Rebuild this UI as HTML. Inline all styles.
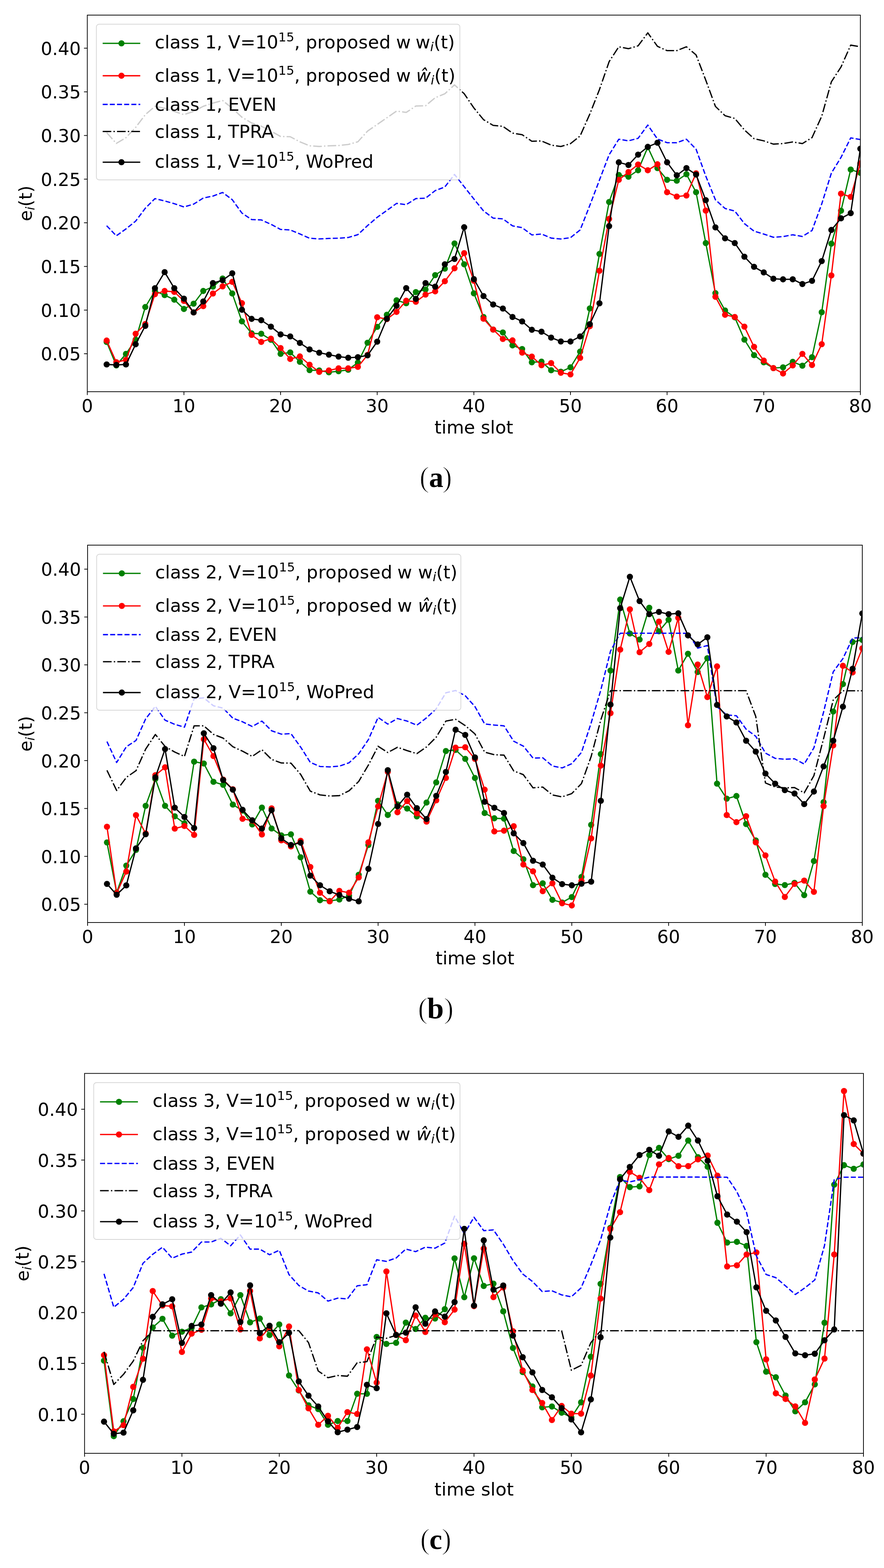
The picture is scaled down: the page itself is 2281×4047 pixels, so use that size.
<!DOCTYPE html>
<html><head><meta charset="utf-8"><title>figure</title>
<style>html,body{margin:0;padding:0;background:#fff;}svg{display:block;}</style></head>
<body><svg width="2281" height="4047" viewBox="0 0 2281 4047">
<rect width="2281" height="4047" fill="#fff"/>
<clipPath id="clip0"><rect x="225.3" y="39.0" width="1994.7" height="972.0"/></clipPath>
<g clip-path="url(#clip0)" fill="none" stroke-linejoin="round">
<path d="M275.2,882.6 L300.1,943.1 L325.0,913.4 L350.0,876.7 L374.9,792.5 L399.8,751.0 L424.8,761.7 L449.7,773.5 L474.6,797.5 L499.6,783.9 L524.5,751.0 L549.4,739.9 L574.4,718.9 L599.3,757.5 L624.2,829.5 L649.2,860.4 L674.1,861.3 L699.0,876.9 L724.0,913.3 L748.9,909.7 L773.8,933.9 L798.8,955.3 L823.7,956.2 L848.6,960.9 L873.6,958.1 L898.5,954.4 L923.4,935.8 L948.4,884.6 L973.3,843.7 L998.2,812.4 L1023.2,775.2 L1048.1,782.7 L1073.0,753.8 L1098.0,747.3 L1122.9,710.1 L1147.8,693.4 L1172.8,628.3 L1197.7,682.2 L1222.7,757.1 L1247.6,818.1 L1272.5,850.6 L1297.5,858.1 L1322.4,891.5 L1347.3,900.8 L1372.3,935.2 L1397.2,933.4 L1422.1,955.7 L1447.1,959.4 L1472.0,948.2 L1496.9,907.5 L1521.9,796.2 L1546.8,655.3 L1571.7,521.3 L1596.7,451.6 L1621.6,456.2 L1646.5,439.5 L1671.5,380.0 L1696.4,433.9 L1721.3,464.2 L1746.3,466.4 L1771.2,449.7 L1796.1,496.2 L1821.1,627.3 L1846.0,756.6 L1870.9,801.3 L1895.9,819.0 L1920.8,876.6 L1945.7,916.6 L1970.7,935.2 L1995.6,950.1 L2020.5,948.2 L2045.5,934.0 L2070.4,943.9 L2095.3,921.9 L2120.3,805.9 L2145.2,628.8 L2170.1,543.9 L2195.1,437.7 L2220.0,446.1" stroke="#008000" stroke-width="3.30" stroke-linecap="square"/>
<g fill="#008000" stroke="none"><circle cx="275.2" cy="882.6" r="7.90"/><circle cx="300.1" cy="943.1" r="7.90"/><circle cx="325.0" cy="913.4" r="7.90"/><circle cx="350.0" cy="876.7" r="7.90"/><circle cx="374.9" cy="792.5" r="7.90"/><circle cx="399.8" cy="751.0" r="7.90"/><circle cx="424.8" cy="761.7" r="7.90"/><circle cx="449.7" cy="773.5" r="7.90"/><circle cx="474.6" cy="797.5" r="7.90"/><circle cx="499.6" cy="783.9" r="7.90"/><circle cx="524.5" cy="751.0" r="7.90"/><circle cx="549.4" cy="739.9" r="7.90"/><circle cx="574.4" cy="718.9" r="7.90"/><circle cx="599.3" cy="757.5" r="7.90"/><circle cx="624.2" cy="829.5" r="7.90"/><circle cx="649.2" cy="860.4" r="7.90"/><circle cx="674.1" cy="861.3" r="7.90"/><circle cx="699.0" cy="876.9" r="7.90"/><circle cx="724.0" cy="913.3" r="7.90"/><circle cx="748.9" cy="909.7" r="7.90"/><circle cx="773.8" cy="933.9" r="7.90"/><circle cx="798.8" cy="955.3" r="7.90"/><circle cx="823.7" cy="956.2" r="7.90"/><circle cx="848.6" cy="960.9" r="7.90"/><circle cx="873.6" cy="958.1" r="7.90"/><circle cx="898.5" cy="954.4" r="7.90"/><circle cx="923.4" cy="935.8" r="7.90"/><circle cx="948.4" cy="884.6" r="7.90"/><circle cx="973.3" cy="843.7" r="7.90"/><circle cx="998.2" cy="812.4" r="7.90"/><circle cx="1023.2" cy="775.2" r="7.90"/><circle cx="1048.1" cy="782.7" r="7.90"/><circle cx="1073.0" cy="753.8" r="7.90"/><circle cx="1098.0" cy="747.3" r="7.90"/><circle cx="1122.9" cy="710.1" r="7.90"/><circle cx="1147.8" cy="693.4" r="7.90"/><circle cx="1172.8" cy="628.3" r="7.90"/><circle cx="1197.7" cy="682.2" r="7.90"/><circle cx="1222.7" cy="757.1" r="7.90"/><circle cx="1247.6" cy="818.1" r="7.90"/><circle cx="1272.5" cy="850.6" r="7.90"/><circle cx="1297.5" cy="858.1" r="7.90"/><circle cx="1322.4" cy="891.5" r="7.90"/><circle cx="1347.3" cy="900.8" r="7.90"/><circle cx="1372.3" cy="935.2" r="7.90"/><circle cx="1397.2" cy="933.4" r="7.90"/><circle cx="1422.1" cy="955.7" r="7.90"/><circle cx="1447.1" cy="959.4" r="7.90"/><circle cx="1472.0" cy="948.2" r="7.90"/><circle cx="1496.9" cy="907.5" r="7.90"/><circle cx="1521.9" cy="796.2" r="7.90"/><circle cx="1546.8" cy="655.3" r="7.90"/><circle cx="1571.7" cy="521.3" r="7.90"/><circle cx="1596.7" cy="451.6" r="7.90"/><circle cx="1621.6" cy="456.2" r="7.90"/><circle cx="1646.5" cy="439.5" r="7.90"/><circle cx="1671.5" cy="380.0" r="7.90"/><circle cx="1696.4" cy="433.9" r="7.90"/><circle cx="1721.3" cy="464.2" r="7.90"/><circle cx="1746.3" cy="466.4" r="7.90"/><circle cx="1771.2" cy="449.7" r="7.90"/><circle cx="1796.1" cy="496.2" r="7.90"/><circle cx="1821.1" cy="627.3" r="7.90"/><circle cx="1846.0" cy="756.6" r="7.90"/><circle cx="1870.9" cy="801.3" r="7.90"/><circle cx="1895.9" cy="819.0" r="7.90"/><circle cx="1920.8" cy="876.6" r="7.90"/><circle cx="1945.7" cy="916.6" r="7.90"/><circle cx="1970.7" cy="935.2" r="7.90"/><circle cx="1995.6" cy="950.1" r="7.90"/><circle cx="2020.5" cy="948.2" r="7.90"/><circle cx="2045.5" cy="934.0" r="7.90"/><circle cx="2070.4" cy="943.9" r="7.90"/><circle cx="2095.3" cy="921.9" r="7.90"/><circle cx="2120.3" cy="805.9" r="7.90"/><circle cx="2145.2" cy="628.8" r="7.90"/><circle cx="2170.1" cy="543.9" r="7.90"/><circle cx="2195.1" cy="437.7" r="7.90"/><circle cx="2220.0" cy="446.1" r="7.90"/></g>
<path d="M275.2,879.0 L300.1,934.8 L325.0,928.8 L350.0,861.3 L374.9,836.4 L399.8,759.3 L424.8,751.0 L449.7,753.4 L474.6,776.7 L499.6,806.4 L524.5,790.2 L549.4,757.6 L574.4,739.2 L599.3,727.5 L624.2,782.5 L649.2,864.3 L674.1,882.5 L699.0,874.1 L724.0,898.4 L748.9,926.5 L773.8,920.0 L798.8,941.3 L823.7,959.9 L848.6,956.2 L873.6,950.6 L898.5,950.6 L923.4,946.9 L948.4,916.2 L973.3,818.9 L998.2,823.6 L1023.2,805.0 L1048.1,776.1 L1073.0,778.9 L1098.0,760.3 L1122.9,752.0 L1147.8,725.9 L1172.8,692.5 L1197.7,653.4 L1222.7,724.6 L1247.6,822.7 L1272.5,850.6 L1297.5,874.8 L1322.4,878.5 L1347.3,910.1 L1372.3,920.3 L1397.2,942.7 L1422.1,937.1 L1447.1,962.2 L1472.0,966.3 L1496.9,923.7 L1521.9,841.9 L1546.8,698.8 L1571.7,565.0 L1596.7,464.2 L1621.6,444.1 L1646.5,424.6 L1671.5,439.5 L1696.4,424.0 L1721.3,496.2 L1746.3,507.3 L1771.2,504.6 L1796.1,447.4 L1821.1,543.6 L1846.0,766.0 L1870.9,812.5 L1895.9,818.1 L1920.8,843.2 L1945.7,895.2 L1970.7,930.6 L1995.6,950.1 L2020.5,964.0 L2045.5,943.2 L2070.4,913.3 L2095.3,942.2 L2120.3,888.3 L2145.2,710.8 L2170.1,499.9 L2195.1,508.2 L2220.0,421.6" stroke="#ff0000" stroke-width="3.30" stroke-linecap="square"/>
<g fill="#ff0000" stroke="none"><circle cx="275.2" cy="879.0" r="7.90"/><circle cx="300.1" cy="934.8" r="7.90"/><circle cx="325.0" cy="928.8" r="7.90"/><circle cx="350.0" cy="861.3" r="7.90"/><circle cx="374.9" cy="836.4" r="7.90"/><circle cx="399.8" cy="759.3" r="7.90"/><circle cx="424.8" cy="751.0" r="7.90"/><circle cx="449.7" cy="753.4" r="7.90"/><circle cx="474.6" cy="776.7" r="7.90"/><circle cx="499.6" cy="806.4" r="7.90"/><circle cx="524.5" cy="790.2" r="7.90"/><circle cx="549.4" cy="757.6" r="7.90"/><circle cx="574.4" cy="739.2" r="7.90"/><circle cx="599.3" cy="727.5" r="7.90"/><circle cx="624.2" cy="782.5" r="7.90"/><circle cx="649.2" cy="864.3" r="7.90"/><circle cx="674.1" cy="882.5" r="7.90"/><circle cx="699.0" cy="874.1" r="7.90"/><circle cx="724.0" cy="898.4" r="7.90"/><circle cx="748.9" cy="926.5" r="7.90"/><circle cx="773.8" cy="920.0" r="7.90"/><circle cx="798.8" cy="941.3" r="7.90"/><circle cx="823.7" cy="959.9" r="7.90"/><circle cx="848.6" cy="956.2" r="7.90"/><circle cx="873.6" cy="950.6" r="7.90"/><circle cx="898.5" cy="950.6" r="7.90"/><circle cx="923.4" cy="946.9" r="7.90"/><circle cx="948.4" cy="916.2" r="7.90"/><circle cx="973.3" cy="818.9" r="7.90"/><circle cx="998.2" cy="823.6" r="7.90"/><circle cx="1023.2" cy="805.0" r="7.90"/><circle cx="1048.1" cy="776.1" r="7.90"/><circle cx="1073.0" cy="778.9" r="7.90"/><circle cx="1098.0" cy="760.3" r="7.90"/><circle cx="1122.9" cy="752.0" r="7.90"/><circle cx="1147.8" cy="725.9" r="7.90"/><circle cx="1172.8" cy="692.5" r="7.90"/><circle cx="1197.7" cy="653.4" r="7.90"/><circle cx="1222.7" cy="724.6" r="7.90"/><circle cx="1247.6" cy="822.7" r="7.90"/><circle cx="1272.5" cy="850.6" r="7.90"/><circle cx="1297.5" cy="874.8" r="7.90"/><circle cx="1322.4" cy="878.5" r="7.90"/><circle cx="1347.3" cy="910.1" r="7.90"/><circle cx="1372.3" cy="920.3" r="7.90"/><circle cx="1397.2" cy="942.7" r="7.90"/><circle cx="1422.1" cy="937.1" r="7.90"/><circle cx="1447.1" cy="962.2" r="7.90"/><circle cx="1472.0" cy="966.3" r="7.90"/><circle cx="1496.9" cy="923.7" r="7.90"/><circle cx="1521.9" cy="841.9" r="7.90"/><circle cx="1546.8" cy="698.8" r="7.90"/><circle cx="1571.7" cy="565.0" r="7.90"/><circle cx="1596.7" cy="464.2" r="7.90"/><circle cx="1621.6" cy="444.1" r="7.90"/><circle cx="1646.5" cy="424.6" r="7.90"/><circle cx="1671.5" cy="439.5" r="7.90"/><circle cx="1696.4" cy="424.0" r="7.90"/><circle cx="1721.3" cy="496.2" r="7.90"/><circle cx="1746.3" cy="507.3" r="7.90"/><circle cx="1771.2" cy="504.6" r="7.90"/><circle cx="1796.1" cy="447.4" r="7.90"/><circle cx="1821.1" cy="543.6" r="7.90"/><circle cx="1846.0" cy="766.0" r="7.90"/><circle cx="1870.9" cy="812.5" r="7.90"/><circle cx="1895.9" cy="818.1" r="7.90"/><circle cx="1920.8" cy="843.2" r="7.90"/><circle cx="1945.7" cy="895.2" r="7.90"/><circle cx="1970.7" cy="930.6" r="7.90"/><circle cx="1995.6" cy="950.1" r="7.90"/><circle cx="2020.5" cy="964.0" r="7.90"/><circle cx="2045.5" cy="943.2" r="7.90"/><circle cx="2070.4" cy="913.3" r="7.90"/><circle cx="2095.3" cy="942.2" r="7.90"/><circle cx="2120.3" cy="888.3" r="7.90"/><circle cx="2145.2" cy="710.8" r="7.90"/><circle cx="2170.1" cy="499.9" r="7.90"/><circle cx="2195.1" cy="508.2" r="7.90"/><circle cx="2220.0" cy="421.6" r="7.90"/></g>
<path d="M275.2,582.6 L300.1,608.7 L325.0,590.9 L350.0,570.7 L374.9,537.5 L399.8,512.6 L424.8,518.6 L449.7,525.7 L474.6,534.1 L499.6,526.9 L524.5,511.1 L549.4,506.1 L574.4,496.8 L599.3,515.4 L624.2,549.9 L649.2,566.6 L674.1,567.6 L699.0,578.8 L724.0,592.2 L748.9,593.5 L773.8,603.7 L798.8,614.9 L823.7,616.7 L848.6,615.4 L873.6,614.9 L898.5,613.0 L923.4,605.6 L948.4,582.3 L973.3,560.9 L998.2,543.2 L1023.2,525.0 L1048.1,528.3 L1073.0,512.5 L1098.0,511.6 L1122.9,492.0 L1147.8,482.7 L1172.8,450.2 L1197.7,481.8 L1222.7,513.5 L1247.6,544.3 L1272.5,563.0 L1297.5,564.9 L1322.4,582.9 L1347.3,587.6 L1372.3,606.3 L1397.2,604.0 L1422.1,614.5 L1447.1,616.9 L1472.0,613.4 L1496.9,593.5 L1521.9,530.2 L1546.8,464.7 L1571.7,399.5 L1596.7,359.3 L1621.6,363.5 L1646.5,357.0 L1671.5,322.8 L1696.4,358.7 L1721.3,368.3 L1746.3,368.3 L1771.2,359.3 L1796.1,385.1 L1821.1,454.4 L1846.0,515.7 L1870.9,538.1 L1895.9,544.6 L1920.8,577.1 L1945.7,596.6 L1970.7,604.1 L1995.6,612.4 L2020.5,610.6 L2045.5,606.0 L2070.4,610.3 L2095.3,594.9 L2120.3,526.4 L2145.2,446.8 L2170.1,406.2 L2195.1,355.9 L2220.0,360.1" stroke="#0000ff" stroke-width="3.30" stroke-dasharray="12.90 5.60"/>
<path d="M275.2,342.1 L300.1,370.2 L325.0,355.4 L350.0,328.9 L374.9,295.9 L399.8,274.4 L424.8,279.3 L449.7,287.6 L474.6,295.9 L499.6,287.6 L524.5,274.4 L549.4,266.1 L574.4,259.5 L599.3,279.3 L624.2,302.5 L649.2,317.4 L674.1,325.6 L699.0,338.4 L724.0,352.2 L748.9,352.9 L773.8,366.0 L798.8,376.3 L823.7,378.0 L848.6,376.3 L873.6,375.6 L898.5,372.8 L923.4,366.0 L948.4,338.4 L973.3,321.2 L998.2,304.0 L1023.2,286.7 L1048.1,290.2 L1073.0,273.7 L1098.0,273.0 L1122.9,252.3 L1147.8,242.0 L1172.8,219.0 L1197.7,241.8 L1222.7,278.5 L1247.6,308.8 L1272.5,323.6 L1297.5,326.1 L1322.4,343.5 L1347.3,347.7 L1372.3,364.6 L1397.2,363.8 L1422.1,374.5 L1447.1,378.2 L1472.0,370.8 L1496.9,350.9 L1521.9,294.3 L1546.8,231.1 L1571.7,159.2 L1596.7,120.7 L1621.6,125.7 L1646.5,118.3 L1671.5,84.8 L1696.4,119.5 L1721.3,130.7 L1746.3,130.7 L1771.2,120.7 L1796.1,141.8 L1821.1,206.8 L1846.0,274.6 L1870.9,298.6 L1895.9,305.7 L1920.8,335.3 L1945.7,357.9 L1970.7,363.5 L1995.6,372.0 L2020.5,370.6 L2045.5,366.4 L2070.4,370.6 L2095.3,355.1 L2120.3,300.0 L2145.2,211.1 L2170.1,172.9 L2195.1,116.5 L2220.0,120.7" stroke="#000000" stroke-width="3.30" stroke-dasharray="22.30 5.60 3.50 5.60"/>
<path d="M275.2,940.7 L300.1,941.9 L325.0,940.7 L350.0,888.5 L374.9,841.1 L399.8,743.9 L424.8,702.4 L449.7,743.9 L474.6,770.9 L499.6,806.4 L524.5,778.1 L549.4,730.6 L574.4,723.3 L599.3,705.3 L624.2,799.5 L649.2,823.0 L674.1,826.5 L699.0,843.1 L724.0,863.1 L748.9,868.3 L773.8,885.2 L798.8,901.9 L823.7,910.3 L848.6,915.3 L873.6,920.3 L898.5,923.3 L923.4,921.8 L948.4,917.2 L973.3,881.8 L998.2,822.6 L1023.2,789.2 L1048.1,743.6 L1073.0,771.5 L1098.0,730.6 L1122.9,739.9 L1147.8,682.2 L1172.8,668.3 L1197.7,586.5 L1222.7,720.4 L1247.6,764.2 L1272.5,785.9 L1297.5,796.3 L1322.4,818.1 L1347.3,829.6 L1372.3,851.2 L1397.2,856.2 L1422.1,871.4 L1447.1,881.3 L1472.0,881.5 L1496.9,868.4 L1521.9,836.7 L1546.8,782.9 L1571.7,583.6 L1596.7,419.0 L1621.6,425.9 L1646.5,399.1 L1671.5,379.0 L1696.4,368.4 L1721.3,419.0 L1746.3,452.5 L1771.2,433.9 L1796.1,450.5 L1821.1,516.7 L1846.0,586.8 L1870.9,615.2 L1895.9,627.3 L1920.8,662.6 L1945.7,688.7 L1970.7,703.2 L1995.6,719.4 L2020.5,721.0 L2045.5,720.8 L2070.4,733.2 L2095.3,724.8 L2120.3,673.8 L2145.2,593.5 L2170.1,563.5 L2195.1,550.2 L2220.0,383.9" stroke="#000000" stroke-width="3.30" stroke-linecap="square"/>
<g fill="#000000" stroke="none"><circle cx="275.2" cy="940.7" r="7.90"/><circle cx="300.1" cy="941.9" r="7.90"/><circle cx="325.0" cy="940.7" r="7.90"/><circle cx="350.0" cy="888.5" r="7.90"/><circle cx="374.9" cy="841.1" r="7.90"/><circle cx="399.8" cy="743.9" r="7.90"/><circle cx="424.8" cy="702.4" r="7.90"/><circle cx="449.7" cy="743.9" r="7.90"/><circle cx="474.6" cy="770.9" r="7.90"/><circle cx="499.6" cy="806.4" r="7.90"/><circle cx="524.5" cy="778.1" r="7.90"/><circle cx="549.4" cy="730.6" r="7.90"/><circle cx="574.4" cy="723.3" r="7.90"/><circle cx="599.3" cy="705.3" r="7.90"/><circle cx="624.2" cy="799.5" r="7.90"/><circle cx="649.2" cy="823.0" r="7.90"/><circle cx="674.1" cy="826.5" r="7.90"/><circle cx="699.0" cy="843.1" r="7.90"/><circle cx="724.0" cy="863.1" r="7.90"/><circle cx="748.9" cy="868.3" r="7.90"/><circle cx="773.8" cy="885.2" r="7.90"/><circle cx="798.8" cy="901.9" r="7.90"/><circle cx="823.7" cy="910.3" r="7.90"/><circle cx="848.6" cy="915.3" r="7.90"/><circle cx="873.6" cy="920.3" r="7.90"/><circle cx="898.5" cy="923.3" r="7.90"/><circle cx="923.4" cy="921.8" r="7.90"/><circle cx="948.4" cy="917.2" r="7.90"/><circle cx="973.3" cy="881.8" r="7.90"/><circle cx="998.2" cy="822.6" r="7.90"/><circle cx="1023.2" cy="789.2" r="7.90"/><circle cx="1048.1" cy="743.6" r="7.90"/><circle cx="1073.0" cy="771.5" r="7.90"/><circle cx="1098.0" cy="730.6" r="7.90"/><circle cx="1122.9" cy="739.9" r="7.90"/><circle cx="1147.8" cy="682.2" r="7.90"/><circle cx="1172.8" cy="668.3" r="7.90"/><circle cx="1197.7" cy="586.5" r="7.90"/><circle cx="1222.7" cy="720.4" r="7.90"/><circle cx="1247.6" cy="764.2" r="7.90"/><circle cx="1272.5" cy="785.9" r="7.90"/><circle cx="1297.5" cy="796.3" r="7.90"/><circle cx="1322.4" cy="818.1" r="7.90"/><circle cx="1347.3" cy="829.6" r="7.90"/><circle cx="1372.3" cy="851.2" r="7.90"/><circle cx="1397.2" cy="856.2" r="7.90"/><circle cx="1422.1" cy="871.4" r="7.90"/><circle cx="1447.1" cy="881.3" r="7.90"/><circle cx="1472.0" cy="881.5" r="7.90"/><circle cx="1496.9" cy="868.4" r="7.90"/><circle cx="1521.9" cy="836.7" r="7.90"/><circle cx="1546.8" cy="782.9" r="7.90"/><circle cx="1571.7" cy="583.6" r="7.90"/><circle cx="1596.7" cy="419.0" r="7.90"/><circle cx="1621.6" cy="425.9" r="7.90"/><circle cx="1646.5" cy="399.1" r="7.90"/><circle cx="1671.5" cy="379.0" r="7.90"/><circle cx="1696.4" cy="368.4" r="7.90"/><circle cx="1721.3" cy="419.0" r="7.90"/><circle cx="1746.3" cy="452.5" r="7.90"/><circle cx="1771.2" cy="433.9" r="7.90"/><circle cx="1796.1" cy="450.5" r="7.90"/><circle cx="1821.1" cy="516.7" r="7.90"/><circle cx="1846.0" cy="586.8" r="7.90"/><circle cx="1870.9" cy="615.2" r="7.90"/><circle cx="1895.9" cy="627.3" r="7.90"/><circle cx="1920.8" cy="662.6" r="7.90"/><circle cx="1945.7" cy="688.7" r="7.90"/><circle cx="1970.7" cy="703.2" r="7.90"/><circle cx="1995.6" cy="719.4" r="7.90"/><circle cx="2020.5" cy="721.0" r="7.90"/><circle cx="2045.5" cy="720.8" r="7.90"/><circle cx="2070.4" cy="733.2" r="7.90"/><circle cx="2095.3" cy="724.8" r="7.90"/><circle cx="2120.3" cy="673.8" r="7.90"/><circle cx="2145.2" cy="593.5" r="7.90"/><circle cx="2170.1" cy="563.5" r="7.90"/><circle cx="2195.1" cy="550.2" r="7.90"/><circle cx="2220.0" cy="383.9" r="7.90"/></g>
</g>
<rect x="225.3" y="39.0" width="1994.7" height="972.0" fill="none" stroke="#000" stroke-width="1.90"/>
<g stroke="#000" stroke-width="1.90"><line x1="225.3" y1="1011.0" x2="225.3" y2="1019.6"/><line x1="474.6" y1="1011.0" x2="474.6" y2="1019.6"/><line x1="724.0" y1="1011.0" x2="724.0" y2="1019.6"/><line x1="973.3" y1="1011.0" x2="973.3" y2="1019.6"/><line x1="1222.7" y1="1011.0" x2="1222.7" y2="1019.6"/><line x1="1472.0" y1="1011.0" x2="1472.0" y2="1019.6"/><line x1="1721.3" y1="1011.0" x2="1721.3" y2="1019.6"/><line x1="1970.7" y1="1011.0" x2="1970.7" y2="1019.6"/><line x1="2220.0" y1="1011.0" x2="2220.0" y2="1019.6"/><line x1="225.3" y1="913.0" x2="216.7" y2="913.0"/><line x1="225.3" y1="800.4" x2="216.7" y2="800.4"/><line x1="225.3" y1="687.7" x2="216.7" y2="687.7"/><line x1="225.3" y1="575.0" x2="216.7" y2="575.0"/><line x1="225.3" y1="462.4" x2="216.7" y2="462.4"/><line x1="225.3" y1="349.7" x2="216.7" y2="349.7"/><line x1="225.3" y1="237.1" x2="216.7" y2="237.1"/><line x1="225.3" y1="124.4" x2="216.7" y2="124.4"/></g>
<g font-family='"DejaVu Sans", "Liberation Sans", sans-serif' font-size="46.40" fill="#000">
<text x="225.3" y="1063.5" text-anchor="middle">0</text>
<text x="474.6" y="1063.5" text-anchor="middle">10</text>
<text x="724.0" y="1063.5" text-anchor="middle">20</text>
<text x="973.3" y="1063.5" text-anchor="middle">30</text>
<text x="1222.7" y="1063.5" text-anchor="middle">40</text>
<text x="1472.0" y="1063.5" text-anchor="middle">50</text>
<text x="1721.3" y="1063.5" text-anchor="middle">60</text>
<text x="1970.7" y="1063.5" text-anchor="middle">70</text>
<text x="2220.0" y="1063.5" text-anchor="middle">80</text>
<text x="208.5" y="930.3" text-anchor="end">0.05</text>
<text x="208.5" y="817.7" text-anchor="end">0.10</text>
<text x="208.5" y="705.0" text-anchor="end">0.15</text>
<text x="208.5" y="592.3" text-anchor="end">0.20</text>
<text x="208.5" y="479.7" text-anchor="end">0.25</text>
<text x="208.5" y="367.0" text-anchor="end">0.30</text>
<text x="208.5" y="254.4" text-anchor="end">0.35</text>
<text x="208.5" y="141.7" text-anchor="end">0.40</text>
<text x="1222.7" y="1119.0" text-anchor="middle">time slot</text>
<text transform="translate(82.0,525.0) rotate(-90)" text-anchor="middle">e<tspan font-style="italic" font-size="32.5" dy="7.0">i</tspan><tspan dy="-7.0">(t)</tspan></text>
</g>
<rect x="248.7" y="62.5" width="937.9" height="401.7" rx="7.0" ry="7.0" fill="#fff" fill-opacity="0.8" stroke="#ccc" stroke-opacity="0.8" stroke-width="1.90"/>
<line x1="264.9" y1="111.8" x2="361.9" y2="111.8" stroke="#008000" stroke-width="3.30"/>
<circle cx="313.4" cy="111.8" r="7.90" fill="#008000"/>
<text x="399.5" y="124.9" font-family='"DejaVu Sans", "Liberation Sans", sans-serif' font-size="46.40">class 1, V=10<tspan font-size="32.5" dy="-18.0">15</tspan><tspan dy="18.0">, </tspan><tspan letter-spacing="0.45">proposed</tspan><tspan dx="-1.2"> w</tspan><tspan dx="-2.5"> </tspan>w<tspan font-style="italic" font-size="32.5" dy="7.0">i</tspan><tspan dy="-7.0">(t)</tspan></text>
<line x1="264.9" y1="195.5" x2="361.9" y2="195.5" stroke="#ff0000" stroke-width="3.30"/>
<circle cx="313.4" cy="195.5" r="7.90" fill="#ff0000"/>
<text x="399.5" y="210.6" font-family='"DejaVu Sans", "Liberation Sans", sans-serif' font-size="46.40">class 1, V=10<tspan font-size="32.5" dy="-18.0">15</tspan><tspan dy="18.0">, </tspan><tspan letter-spacing="0.45">proposed</tspan><tspan dx="-1.2"> w</tspan><tspan dx="-1.0"> </tspan><tspan font-style="italic">ŵ</tspan><tspan font-style="italic" font-size="32.5" dy="7.0">i</tspan><tspan dy="-7.0">(t)</tspan></text>
<line x1="264.9" y1="269.5" x2="361.9" y2="269.5" stroke="#0000ff" stroke-width="3.30" stroke-dasharray="12.90 5.60"/>
<text x="399.5" y="285.5" font-family='"DejaVu Sans", "Liberation Sans", sans-serif' font-size="46.40">class 1, EVEN</text>
<line x1="264.9" y1="339.3" x2="361.9" y2="339.3" stroke="#000000" stroke-width="3.30" stroke-dasharray="22.30 5.60 3.50 5.60"/>
<text x="399.5" y="355.6" font-family='"DejaVu Sans", "Liberation Sans", sans-serif' font-size="46.40">class 1, TPRA</text>
<line x1="264.9" y1="418.7" x2="361.9" y2="418.7" stroke="#000000" stroke-width="3.30"/>
<circle cx="313.4" cy="418.7" r="7.90" fill="#000000"/>
<text x="399.5" y="433.3" font-family='"DejaVu Sans", "Liberation Sans", sans-serif' font-size="46.40">class 1, V=10<tspan font-size="32.5" dy="-18.0">15</tspan><tspan dy="18.0">, </tspan>WoPred</text>
<g font-family='"Liberation Serif", serif' fill="#000"><text x="1082.2" y="1256.8" font-size="76.7" stroke="#fff" stroke-width="1.8">(</text><text x="1107.0" y="1256.8" font-size="74" font-weight="bold">a</text><text x="1141.0" y="1256.8" font-size="76.7" stroke="#fff" stroke-width="1.8">)</text></g>
<clipPath id="clip1"><rect x="226.0" y="1407.0" width="1999.0" height="974.0"/></clipPath>
<g clip-path="url(#clip1)" fill="none" stroke-linejoin="round">
<path d="M276.0,2174.3 L301.0,2303.5 L325.9,2234.1 L350.9,2193.6 L375.9,2079.8 L400.9,2010.4 L425.9,2079.8 L450.9,2106.8 L475.9,2125.0 L500.9,1965.9 L525.9,1970.7 L550.8,2017.9 L575.8,2025.6 L600.8,2076.7 L625.8,2092.1 L650.8,2127.8 L675.8,2084.4 L700.8,2138.4 L725.8,2156.2 L750.7,2153.3 L775.7,2212.6 L800.7,2301.3 L825.7,2323.5 L850.7,2325.4 L875.7,2321.6 L900.7,2311.9 L925.6,2257.9 L950.6,2180.8 L975.6,2066.8 L1000.6,2103.5 L1025.6,2076.2 L1050.6,2086.8 L1075.6,2107.1 L1100.6,2071.4 L1125.6,2019.4 L1150.5,1938.4 L1175.5,1935.5 L1200.5,1958.6 L1225.5,2008.0 L1250.5,2098.4 L1275.5,2112.0 L1300.5,2113.0 L1325.5,2196.4 L1350.4,2217.7 L1375.4,2284.7 L1400.4,2279.8 L1425.4,2322.5 L1450.4,2329.3 L1475.4,2315.3 L1500.4,2263.4 L1525.4,2128.9 L1550.3,1946.3 L1575.3,1730.7 L1600.3,1547.5 L1625.3,1635.2 L1650.3,1650.7 L1675.3,1568.7 L1700.3,1629.4 L1725.2,1599.6 L1750.2,1730.7 L1775.2,1687.3 L1800.2,1734.5 L1825.2,1698.8 L1850.2,2022.7 L1875.2,2061.3 L1900.2,2054.5 L1925.2,2126.8 L1950.1,2169.2 L1975.1,2257.9 L2000.1,2281.6 L2025.1,2284.3 L2050.1,2278.7 L2075.1,2310.3 L2100.1,2222.4 L2125.1,2070.3 L2150.0,1836.4 L2175.0,1765.7 L2200.0,1657.0 L2225.0,1651.6" stroke="#008000" stroke-width="3.31" stroke-linecap="square"/>
<g fill="#008000" stroke="none"><circle cx="276.0" cy="2174.3" r="7.92"/><circle cx="301.0" cy="2303.5" r="7.92"/><circle cx="325.9" cy="2234.1" r="7.92"/><circle cx="350.9" cy="2193.6" r="7.92"/><circle cx="375.9" cy="2079.8" r="7.92"/><circle cx="400.9" cy="2010.4" r="7.92"/><circle cx="425.9" cy="2079.8" r="7.92"/><circle cx="450.9" cy="2106.8" r="7.92"/><circle cx="475.9" cy="2125.0" r="7.92"/><circle cx="500.9" cy="1965.9" r="7.92"/><circle cx="525.9" cy="1970.7" r="7.92"/><circle cx="550.8" cy="2017.9" r="7.92"/><circle cx="575.8" cy="2025.6" r="7.92"/><circle cx="600.8" cy="2076.7" r="7.92"/><circle cx="625.8" cy="2092.1" r="7.92"/><circle cx="650.8" cy="2127.8" r="7.92"/><circle cx="675.8" cy="2084.4" r="7.92"/><circle cx="700.8" cy="2138.4" r="7.92"/><circle cx="725.8" cy="2156.2" r="7.92"/><circle cx="750.7" cy="2153.3" r="7.92"/><circle cx="775.7" cy="2212.6" r="7.92"/><circle cx="800.7" cy="2301.3" r="7.92"/><circle cx="825.7" cy="2323.5" r="7.92"/><circle cx="850.7" cy="2325.4" r="7.92"/><circle cx="875.7" cy="2321.6" r="7.92"/><circle cx="900.7" cy="2311.9" r="7.92"/><circle cx="925.6" cy="2257.9" r="7.92"/><circle cx="950.6" cy="2180.8" r="7.92"/><circle cx="975.6" cy="2066.8" r="7.92"/><circle cx="1000.6" cy="2103.5" r="7.92"/><circle cx="1025.6" cy="2076.2" r="7.92"/><circle cx="1050.6" cy="2086.8" r="7.92"/><circle cx="1075.6" cy="2107.1" r="7.92"/><circle cx="1100.6" cy="2071.4" r="7.92"/><circle cx="1125.6" cy="2019.4" r="7.92"/><circle cx="1150.5" cy="1938.4" r="7.92"/><circle cx="1175.5" cy="1935.5" r="7.92"/><circle cx="1200.5" cy="1958.6" r="7.92"/><circle cx="1225.5" cy="2008.0" r="7.92"/><circle cx="1250.5" cy="2098.4" r="7.92"/><circle cx="1275.5" cy="2112.0" r="7.92"/><circle cx="1300.5" cy="2113.0" r="7.92"/><circle cx="1325.5" cy="2196.4" r="7.92"/><circle cx="1350.4" cy="2217.7" r="7.92"/><circle cx="1375.4" cy="2284.7" r="7.92"/><circle cx="1400.4" cy="2279.8" r="7.92"/><circle cx="1425.4" cy="2322.5" r="7.92"/><circle cx="1450.4" cy="2329.3" r="7.92"/><circle cx="1475.4" cy="2315.3" r="7.92"/><circle cx="1500.4" cy="2263.4" r="7.92"/><circle cx="1525.4" cy="2128.9" r="7.92"/><circle cx="1550.3" cy="1946.3" r="7.92"/><circle cx="1575.3" cy="1730.7" r="7.92"/><circle cx="1600.3" cy="1547.5" r="7.92"/><circle cx="1625.3" cy="1635.2" r="7.92"/><circle cx="1650.3" cy="1650.7" r="7.92"/><circle cx="1675.3" cy="1568.7" r="7.92"/><circle cx="1700.3" cy="1629.4" r="7.92"/><circle cx="1725.2" cy="1599.6" r="7.92"/><circle cx="1750.2" cy="1730.7" r="7.92"/><circle cx="1775.2" cy="1687.3" r="7.92"/><circle cx="1800.2" cy="1734.5" r="7.92"/><circle cx="1825.2" cy="1698.8" r="7.92"/><circle cx="1850.2" cy="2022.7" r="7.92"/><circle cx="1875.2" cy="2061.3" r="7.92"/><circle cx="1900.2" cy="2054.5" r="7.92"/><circle cx="1925.2" cy="2126.8" r="7.92"/><circle cx="1950.1" cy="2169.2" r="7.92"/><circle cx="1975.1" cy="2257.9" r="7.92"/><circle cx="2000.1" cy="2281.6" r="7.92"/><circle cx="2025.1" cy="2284.3" r="7.92"/><circle cx="2050.1" cy="2278.7" r="7.92"/><circle cx="2075.1" cy="2310.3" r="7.92"/><circle cx="2100.1" cy="2222.4" r="7.92"/><circle cx="2125.1" cy="2070.3" r="7.92"/><circle cx="2150.0" cy="1836.4" r="7.92"/><circle cx="2175.0" cy="1765.7" r="7.92"/><circle cx="2200.0" cy="1657.0" r="7.92"/><circle cx="2225.0" cy="1651.6" r="7.92"/></g>
<path d="M276.0,2133.8 L301.0,2305.4 L325.9,2249.5 L350.9,2103.9 L375.9,2151.2 L400.9,2000.8 L425.9,1980.5 L450.9,2138.6 L475.9,2131.8 L500.9,2154.9 L525.9,1908.0 L550.8,1951.4 L575.8,2012.1 L600.8,2037.2 L625.8,2113.3 L650.8,2118.2 L675.8,2153.8 L700.8,2086.3 L725.8,2168.8 L750.7,2184.7 L775.7,2170.2 L800.7,2237.7 L825.7,2304.2 L850.7,2326.4 L875.7,2299.4 L900.7,2304.2 L925.6,2264.7 L950.6,2174.1 L975.6,2081.3 L1000.6,1992.1 L1025.6,2096.5 L1050.6,2067.6 L1075.6,2099.4 L1100.6,2120.6 L1125.6,2065.6 L1150.5,2007.8 L1175.5,1929.7 L1200.5,1928.7 L1225.5,1958.6 L1250.5,2038.2 L1275.5,2145.9 L1300.5,2144.0 L1325.5,2132.4 L1350.4,2231.3 L1375.4,2248.8 L1400.4,2300.2 L1425.4,2279.8 L1450.4,2331.3 L1475.4,2337.0 L1500.4,2273.9 L1525.4,2163.8 L1550.3,1976.0 L1575.3,1840.6 L1600.3,1676.7 L1625.3,1572.6 L1650.3,1683.4 L1675.3,1662.2 L1700.3,1604.4 L1725.2,1682.5 L1750.2,1594.7 L1775.2,1871.9 L1800.2,1715.2 L1825.2,1799.1 L1850.2,1720.0 L1875.2,2103.7 L1900.2,2122.0 L1925.2,2106.6 L1950.1,2174.1 L1975.1,2207.8 L2000.1,2275.3 L2025.1,2315.1 L2050.1,2281.3 L2075.1,2272.8 L2100.1,2301.8 L2125.1,2080.6 L2150.0,1923.8 L2175.0,1718.4 L2200.0,1735.5 L2225.0,1673.4" stroke="#ff0000" stroke-width="3.31" stroke-linecap="square"/>
<g fill="#ff0000" stroke="none"><circle cx="276.0" cy="2133.8" r="7.92"/><circle cx="301.0" cy="2305.4" r="7.92"/><circle cx="325.9" cy="2249.5" r="7.92"/><circle cx="350.9" cy="2103.9" r="7.92"/><circle cx="375.9" cy="2151.2" r="7.92"/><circle cx="400.9" cy="2000.8" r="7.92"/><circle cx="425.9" cy="1980.5" r="7.92"/><circle cx="450.9" cy="2138.6" r="7.92"/><circle cx="475.9" cy="2131.8" r="7.92"/><circle cx="500.9" cy="2154.9" r="7.92"/><circle cx="525.9" cy="1908.0" r="7.92"/><circle cx="550.8" cy="1951.4" r="7.92"/><circle cx="575.8" cy="2012.1" r="7.92"/><circle cx="600.8" cy="2037.2" r="7.92"/><circle cx="625.8" cy="2113.3" r="7.92"/><circle cx="650.8" cy="2118.2" r="7.92"/><circle cx="675.8" cy="2153.8" r="7.92"/><circle cx="700.8" cy="2086.3" r="7.92"/><circle cx="725.8" cy="2168.8" r="7.92"/><circle cx="750.7" cy="2184.7" r="7.92"/><circle cx="775.7" cy="2170.2" r="7.92"/><circle cx="800.7" cy="2237.7" r="7.92"/><circle cx="825.7" cy="2304.2" r="7.92"/><circle cx="850.7" cy="2326.4" r="7.92"/><circle cx="875.7" cy="2299.4" r="7.92"/><circle cx="900.7" cy="2304.2" r="7.92"/><circle cx="925.6" cy="2264.7" r="7.92"/><circle cx="950.6" cy="2174.1" r="7.92"/><circle cx="975.6" cy="2081.3" r="7.92"/><circle cx="1000.6" cy="1992.1" r="7.92"/><circle cx="1025.6" cy="2096.5" r="7.92"/><circle cx="1050.6" cy="2067.6" r="7.92"/><circle cx="1075.6" cy="2099.4" r="7.92"/><circle cx="1100.6" cy="2120.6" r="7.92"/><circle cx="1125.6" cy="2065.6" r="7.92"/><circle cx="1150.5" cy="2007.8" r="7.92"/><circle cx="1175.5" cy="1929.7" r="7.92"/><circle cx="1200.5" cy="1928.7" r="7.92"/><circle cx="1225.5" cy="1958.6" r="7.92"/><circle cx="1250.5" cy="2038.2" r="7.92"/><circle cx="1275.5" cy="2145.9" r="7.92"/><circle cx="1300.5" cy="2144.0" r="7.92"/><circle cx="1325.5" cy="2132.4" r="7.92"/><circle cx="1350.4" cy="2231.3" r="7.92"/><circle cx="1375.4" cy="2248.8" r="7.92"/><circle cx="1400.4" cy="2300.2" r="7.92"/><circle cx="1425.4" cy="2279.8" r="7.92"/><circle cx="1450.4" cy="2331.3" r="7.92"/><circle cx="1475.4" cy="2337.0" r="7.92"/><circle cx="1500.4" cy="2273.9" r="7.92"/><circle cx="1525.4" cy="2163.8" r="7.92"/><circle cx="1550.3" cy="1976.0" r="7.92"/><circle cx="1575.3" cy="1840.6" r="7.92"/><circle cx="1600.3" cy="1676.7" r="7.92"/><circle cx="1625.3" cy="1572.6" r="7.92"/><circle cx="1650.3" cy="1683.4" r="7.92"/><circle cx="1675.3" cy="1662.2" r="7.92"/><circle cx="1700.3" cy="1604.4" r="7.92"/><circle cx="1725.2" cy="1682.5" r="7.92"/><circle cx="1750.2" cy="1594.7" r="7.92"/><circle cx="1775.2" cy="1871.9" r="7.92"/><circle cx="1800.2" cy="1715.2" r="7.92"/><circle cx="1825.2" cy="1799.1" r="7.92"/><circle cx="1850.2" cy="1720.0" r="7.92"/><circle cx="1875.2" cy="2103.7" r="7.92"/><circle cx="1900.2" cy="2122.0" r="7.92"/><circle cx="1925.2" cy="2106.6" r="7.92"/><circle cx="1950.1" cy="2174.1" r="7.92"/><circle cx="1975.1" cy="2207.8" r="7.92"/><circle cx="2000.1" cy="2275.3" r="7.92"/><circle cx="2025.1" cy="2315.1" r="7.92"/><circle cx="2050.1" cy="2281.3" r="7.92"/><circle cx="2075.1" cy="2272.8" r="7.92"/><circle cx="2100.1" cy="2301.8" r="7.92"/><circle cx="2125.1" cy="2080.6" r="7.92"/><circle cx="2150.0" cy="1923.8" r="7.92"/><circle cx="2175.0" cy="1718.4" r="7.92"/><circle cx="2200.0" cy="1735.5" r="7.92"/><circle cx="2225.0" cy="1673.4" r="7.92"/></g>
<path d="M276.0,1914.0 L301.0,1968.0 L325.9,1927.5 L350.9,1911.1 L375.9,1855.2 L400.9,1823.0 L425.9,1858.8 L450.9,1869.5 L475.9,1876.9 L500.9,1803.3 L525.9,1801.2 L550.8,1821.6 L575.8,1827.7 L600.8,1853.7 L625.8,1862.9 L650.8,1875.1 L675.8,1861.1 L700.8,1886.1 L725.8,1894.8 L750.7,1893.5 L775.7,1928.2 L800.7,1967.7 L825.7,1978.3 L850.7,1979.3 L875.7,1977.4 L900.7,1968.7 L925.6,1945.6 L950.6,1908.9 L975.6,1851.6 L1000.6,1868.9 L1025.6,1854.5 L1050.6,1861.2 L1075.6,1871.8 L1100.6,1852.6 L1125.6,1829.4 L1150.5,1788.0 L1175.5,1782.2 L1200.5,1795.7 L1225.5,1823.6 L1250.5,1868.4 L1275.5,1871.3 L1300.5,1873.3 L1325.5,1913.1 L1350.4,1925.7 L1375.4,1956.7 L1400.4,1955.8 L1425.4,1977.1 L1450.4,1982.0 L1475.4,1971.0 L1500.4,1941.9 L1525.4,1865.7 L1550.3,1780.8 L1575.3,1680.5 L1600.3,1634.3 L1625.3,1634.3 L1650.3,1634.3 L1675.3,1634.3 L1700.3,1634.3 L1725.2,1634.3 L1750.2,1634.3 L1775.2,1634.7 L1800.2,1672.8 L1825.2,1666.1 L1850.2,1824.2 L1875.2,1845.4 L1900.2,1847.3 L1925.2,1882.0 L1950.1,1900.3 L1975.1,1943.7 L2000.1,1957.3 L2025.1,1959.6 L2050.1,1958.4 L2075.1,1972.1 L2100.1,1930.2 L2125.1,1838.0 L2150.0,1733.9 L2175.0,1699.8 L2200.0,1647.0 L2225.0,1645.4" stroke="#0000ff" stroke-width="3.31" stroke-dasharray="12.93 5.61"/>
<path d="M276.0,1988.2 L301.0,2040.3 L325.9,2006.5 L350.9,1989.2 L375.9,1933.3 L400.9,1895.7 L425.9,1926.5 L450.9,1941.0 L475.9,1952.4 L500.9,1873.4 L525.9,1873.3 L550.8,1895.4 L575.8,1905.1 L600.8,1927.3 L625.8,1938.8 L650.8,1952.3 L675.8,1935.0 L700.8,1960.0 L725.8,1969.2 L750.7,1969.7 L775.7,1998.6 L800.7,2042.0 L825.7,2051.6 L850.7,2054.5 L875.7,2053.5 L900.7,2041.0 L925.6,2016.9 L950.6,1974.5 L975.6,1926.1 L1000.6,1942.2 L1025.6,1928.7 L1050.6,1937.4 L1075.6,1945.1 L1100.6,1927.8 L1125.6,1902.7 L1150.5,1861.2 L1175.5,1856.4 L1200.5,1872.8 L1225.5,1894.3 L1250.5,1941.2 L1275.5,1948.0 L1300.5,1949.0 L1325.5,1989.7 L1350.4,1999.4 L1375.4,2033.4 L1400.4,2031.4 L1425.4,2051.8 L1450.4,2056.7 L1475.4,2048.2 L1500.4,2022.3 L1525.4,1952.4 L1550.3,1857.9 L1575.3,1782.7 L1600.3,1782.7 L1625.3,1782.7 L1650.3,1782.7 L1675.3,1782.7 L1700.3,1782.7 L1725.2,1782.7 L1750.2,1782.7 L1775.2,1782.7 L1800.2,1782.7 L1825.2,1782.7 L1850.2,1782.7 L1875.2,1782.7 L1900.2,1782.7 L1925.2,1782.7 L1950.1,1849.2 L1975.1,2020.8 L2000.1,2031.2 L2025.1,2033.5 L2050.1,2032.7 L2075.1,2046.4 L2100.1,2002.0 L2125.1,1906.3 L2150.0,1806.9 L2175.0,1782.8 L2200.0,1782.8 L2225.0,1782.8" stroke="#000000" stroke-width="3.31" stroke-dasharray="22.34 5.61 3.51 5.61"/>
<path d="M276.0,2281.3 L301.0,2309.3 L325.9,2285.2 L350.9,2189.7 L375.9,2153.1 L400.9,2006.5 L425.9,1933.3 L450.9,2084.6 L475.9,2108.6 L500.9,2137.1 L525.9,1892.6 L550.8,1931.1 L575.8,2013.1 L600.8,2038.1 L625.8,2090.2 L650.8,2117.2 L675.8,2138.4 L700.8,2091.2 L725.8,2163.9 L750.7,2180.8 L775.7,2175.0 L800.7,2259.9 L825.7,2284.9 L850.7,2300.4 L875.7,2310.0 L900.7,2319.6 L925.6,2326.4 L950.6,2242.5 L975.6,2126.6 L1000.6,1987.8 L1025.6,2081.1 L1050.6,2051.2 L1075.6,2085.9 L1100.6,2113.8 L1125.6,2054.1 L1150.5,1992.4 L1175.5,1883.4 L1200.5,1896.9 L1225.5,1954.8 L1250.5,2069.4 L1275.5,2084.8 L1300.5,2098.4 L1325.5,2150.8 L1350.4,2176.0 L1375.4,2221.6 L1400.4,2231.3 L1425.4,2265.3 L1450.4,2281.8 L1475.4,2285.0 L1500.4,2280.9 L1525.4,2275.7 L1550.3,2066.9 L1575.3,1818.4 L1600.3,1569.7 L1625.3,1488.7 L1650.3,1551.3 L1675.3,1585.1 L1700.3,1579.3 L1725.2,1585.1 L1750.2,1583.0 L1775.2,1640.0 L1800.2,1663.2 L1825.2,1644.8 L1850.2,1819.4 L1875.2,1849.2 L1900.2,1864.7 L1925.2,1911.9 L1950.1,1939.8 L1975.1,1996.7 L2000.1,2022.6 L2025.1,2039.3 L2050.1,2048.1 L2075.1,2075.4 L2100.1,2043.0 L2125.1,1978.1 L2150.0,1911.7 L2175.0,1824.0 L2200.0,1726.1 L2225.0,1583.3" stroke="#000000" stroke-width="3.31" stroke-linecap="square"/>
<g fill="#000000" stroke="none"><circle cx="276.0" cy="2281.3" r="7.92"/><circle cx="301.0" cy="2309.3" r="7.92"/><circle cx="325.9" cy="2285.2" r="7.92"/><circle cx="350.9" cy="2189.7" r="7.92"/><circle cx="375.9" cy="2153.1" r="7.92"/><circle cx="400.9" cy="2006.5" r="7.92"/><circle cx="425.9" cy="1933.3" r="7.92"/><circle cx="450.9" cy="2084.6" r="7.92"/><circle cx="475.9" cy="2108.6" r="7.92"/><circle cx="500.9" cy="2137.1" r="7.92"/><circle cx="525.9" cy="1892.6" r="7.92"/><circle cx="550.8" cy="1931.1" r="7.92"/><circle cx="575.8" cy="2013.1" r="7.92"/><circle cx="600.8" cy="2038.1" r="7.92"/><circle cx="625.8" cy="2090.2" r="7.92"/><circle cx="650.8" cy="2117.2" r="7.92"/><circle cx="675.8" cy="2138.4" r="7.92"/><circle cx="700.8" cy="2091.2" r="7.92"/><circle cx="725.8" cy="2163.9" r="7.92"/><circle cx="750.7" cy="2180.8" r="7.92"/><circle cx="775.7" cy="2175.0" r="7.92"/><circle cx="800.7" cy="2259.9" r="7.92"/><circle cx="825.7" cy="2284.9" r="7.92"/><circle cx="850.7" cy="2300.4" r="7.92"/><circle cx="875.7" cy="2310.0" r="7.92"/><circle cx="900.7" cy="2319.6" r="7.92"/><circle cx="925.6" cy="2326.4" r="7.92"/><circle cx="950.6" cy="2242.5" r="7.92"/><circle cx="975.6" cy="2126.6" r="7.92"/><circle cx="1000.6" cy="1987.8" r="7.92"/><circle cx="1025.6" cy="2081.1" r="7.92"/><circle cx="1050.6" cy="2051.2" r="7.92"/><circle cx="1075.6" cy="2085.9" r="7.92"/><circle cx="1100.6" cy="2113.8" r="7.92"/><circle cx="1125.6" cy="2054.1" r="7.92"/><circle cx="1150.5" cy="1992.4" r="7.92"/><circle cx="1175.5" cy="1883.4" r="7.92"/><circle cx="1200.5" cy="1896.9" r="7.92"/><circle cx="1225.5" cy="1954.8" r="7.92"/><circle cx="1250.5" cy="2069.4" r="7.92"/><circle cx="1275.5" cy="2084.8" r="7.92"/><circle cx="1300.5" cy="2098.4" r="7.92"/><circle cx="1325.5" cy="2150.8" r="7.92"/><circle cx="1350.4" cy="2176.0" r="7.92"/><circle cx="1375.4" cy="2221.6" r="7.92"/><circle cx="1400.4" cy="2231.3" r="7.92"/><circle cx="1425.4" cy="2265.3" r="7.92"/><circle cx="1450.4" cy="2281.8" r="7.92"/><circle cx="1475.4" cy="2285.0" r="7.92"/><circle cx="1500.4" cy="2280.9" r="7.92"/><circle cx="1525.4" cy="2275.7" r="7.92"/><circle cx="1550.3" cy="2066.9" r="7.92"/><circle cx="1575.3" cy="1818.4" r="7.92"/><circle cx="1600.3" cy="1569.7" r="7.92"/><circle cx="1625.3" cy="1488.7" r="7.92"/><circle cx="1650.3" cy="1551.3" r="7.92"/><circle cx="1675.3" cy="1585.1" r="7.92"/><circle cx="1700.3" cy="1579.3" r="7.92"/><circle cx="1725.2" cy="1585.1" r="7.92"/><circle cx="1750.2" cy="1583.0" r="7.92"/><circle cx="1775.2" cy="1640.0" r="7.92"/><circle cx="1800.2" cy="1663.2" r="7.92"/><circle cx="1825.2" cy="1644.8" r="7.92"/><circle cx="1850.2" cy="1819.4" r="7.92"/><circle cx="1875.2" cy="1849.2" r="7.92"/><circle cx="1900.2" cy="1864.7" r="7.92"/><circle cx="1925.2" cy="1911.9" r="7.92"/><circle cx="1950.1" cy="1939.8" r="7.92"/><circle cx="1975.1" cy="1996.7" r="7.92"/><circle cx="2000.1" cy="2022.6" r="7.92"/><circle cx="2025.1" cy="2039.3" r="7.92"/><circle cx="2050.1" cy="2048.1" r="7.92"/><circle cx="2075.1" cy="2075.4" r="7.92"/><circle cx="2100.1" cy="2043.0" r="7.92"/><circle cx="2125.1" cy="1978.1" r="7.92"/><circle cx="2150.0" cy="1911.7" r="7.92"/><circle cx="2175.0" cy="1824.0" r="7.92"/><circle cx="2200.0" cy="1726.1" r="7.92"/><circle cx="2225.0" cy="1583.3" r="7.92"/></g>
</g>
<rect x="226.0" y="1407.0" width="1999.0" height="974.0" fill="none" stroke="#000" stroke-width="1.90"/>
<g stroke="#000" stroke-width="1.90"><line x1="226.0" y1="2381.0" x2="226.0" y2="2389.6"/><line x1="475.9" y1="2381.0" x2="475.9" y2="2389.6"/><line x1="725.8" y1="2381.0" x2="725.8" y2="2389.6"/><line x1="975.6" y1="2381.0" x2="975.6" y2="2389.6"/><line x1="1225.5" y1="2381.0" x2="1225.5" y2="2389.6"/><line x1="1475.4" y1="2381.0" x2="1475.4" y2="2389.6"/><line x1="1725.2" y1="2381.0" x2="1725.2" y2="2389.6"/><line x1="1975.1" y1="2381.0" x2="1975.1" y2="2389.6"/><line x1="2225.0" y1="2381.0" x2="2225.0" y2="2389.6"/><line x1="226.0" y1="2333.8" x2="217.4" y2="2333.8"/><line x1="226.0" y1="2210.3" x2="217.4" y2="2210.3"/><line x1="226.0" y1="2086.7" x2="217.4" y2="2086.7"/><line x1="226.0" y1="1963.1" x2="217.4" y2="1963.1"/><line x1="226.0" y1="1839.6" x2="217.4" y2="1839.6"/><line x1="226.0" y1="1716.0" x2="217.4" y2="1716.0"/><line x1="226.0" y1="1592.5" x2="217.4" y2="1592.5"/><line x1="226.0" y1="1468.9" x2="217.4" y2="1468.9"/></g>
<g font-family='"DejaVu Sans", "Liberation Sans", sans-serif' font-size="46.49" fill="#000">
<text x="226.0" y="2433.6" text-anchor="middle">0</text>
<text x="475.9" y="2433.6" text-anchor="middle">10</text>
<text x="725.8" y="2433.6" text-anchor="middle">20</text>
<text x="975.6" y="2433.6" text-anchor="middle">30</text>
<text x="1225.5" y="2433.6" text-anchor="middle">40</text>
<text x="1475.4" y="2433.6" text-anchor="middle">50</text>
<text x="1725.2" y="2433.6" text-anchor="middle">60</text>
<text x="1975.1" y="2433.6" text-anchor="middle">70</text>
<text x="2225.0" y="2433.6" text-anchor="middle">80</text>
<text x="209.2" y="2351.2" text-anchor="end">0.05</text>
<text x="209.2" y="2227.6" text-anchor="end">0.10</text>
<text x="209.2" y="2104.0" text-anchor="end">0.15</text>
<text x="209.2" y="1980.5" text-anchor="end">0.20</text>
<text x="209.2" y="1856.9" text-anchor="end">0.25</text>
<text x="209.2" y="1733.4" text-anchor="end">0.30</text>
<text x="209.2" y="1609.8" text-anchor="end">0.35</text>
<text x="209.2" y="1486.2" text-anchor="end">0.40</text>
<text x="1225.5" y="2489.2" text-anchor="middle">time slot</text>
<text transform="translate(82.4,1894.0) rotate(-90)" text-anchor="middle">e<tspan font-style="italic" font-size="32.5" dy="7.0">i</tspan><tspan dy="-7.0">(t)</tspan></text>
</g>
<rect x="249.4" y="1430.5" width="939.8" height="402.5" rx="7.0" ry="7.0" fill="#fff" fill-opacity="0.8" stroke="#ccc" stroke-opacity="0.8" stroke-width="1.90"/>
<line x1="265.7" y1="1479.9" x2="362.9" y2="1479.9" stroke="#008000" stroke-width="3.31"/>
<circle cx="314.3" cy="1479.9" r="7.92" fill="#008000"/>
<text x="400.5" y="1493.1" font-family='"DejaVu Sans", "Liberation Sans", sans-serif' font-size="46.49">class 2, V=10<tspan font-size="32.5" dy="-18.0">15</tspan><tspan dy="18.0">, </tspan><tspan letter-spacing="0.75">proposed</tspan><tspan dx="-2.5"> w</tspan><tspan dx="0.5"> </tspan>w<tspan font-style="italic" font-size="32.5" dy="7.0">i</tspan><tspan dy="-7.0">(t)</tspan></text>
<line x1="265.7" y1="1563.8" x2="362.9" y2="1563.8" stroke="#ff0000" stroke-width="3.31"/>
<circle cx="314.3" cy="1563.8" r="7.92" fill="#ff0000"/>
<text x="400.5" y="1578.9" font-family='"DejaVu Sans", "Liberation Sans", sans-serif' font-size="46.49">class 2, V=10<tspan font-size="32.5" dy="-18.0">15</tspan><tspan dy="18.0">, </tspan><tspan letter-spacing="0.75">proposed</tspan><tspan dx="-2.5"> w</tspan><tspan dx="0.5"> </tspan><tspan font-style="italic">ŵ</tspan><tspan font-style="italic" font-size="32.5" dy="7.0">i</tspan><tspan dy="-7.0">(t)</tspan></text>
<line x1="265.7" y1="1638.0" x2="362.9" y2="1638.0" stroke="#0000ff" stroke-width="3.31" stroke-dasharray="12.93 5.61"/>
<text x="400.5" y="1654.0" font-family='"DejaVu Sans", "Liberation Sans", sans-serif' font-size="46.49">class 2, EVEN</text>
<line x1="265.7" y1="1707.9" x2="362.9" y2="1707.9" stroke="#000000" stroke-width="3.31" stroke-dasharray="22.34 5.61 3.51 5.61"/>
<text x="400.5" y="1724.2" font-family='"DejaVu Sans", "Liberation Sans", sans-serif' font-size="46.49">class 2, TPRA</text>
<line x1="265.7" y1="1787.5" x2="362.9" y2="1787.5" stroke="#000000" stroke-width="3.31"/>
<circle cx="314.3" cy="1787.5" r="7.92" fill="#000000"/>
<text x="400.5" y="1802.1" font-family='"DejaVu Sans", "Liberation Sans", sans-serif' font-size="46.49">class 2, V=10<tspan font-size="32.5" dy="-18.0">15</tspan><tspan dy="18.0">, </tspan>WoPred</text>
<g font-family='"Liberation Serif", serif' fill="#000"><text x="1078.3" y="2627.5" font-size="76.7" stroke="#fff" stroke-width="1.8">(</text><text x="1102.2" y="2627.5" font-size="77" font-weight="bold">b</text><text x="1145.0" y="2627.5" font-size="76.7" stroke="#fff" stroke-width="1.8">)</text></g>
<clipPath id="clip2"><rect x="218.2" y="2770.5" width="2009.8" height="980.5"/></clipPath>
<g clip-path="url(#clip2)" fill="none" stroke-linejoin="round">
<path d="M268.4,3511.9 L293.6,3706.7 L318.7,3668.3 L343.8,3610.8 L368.9,3478.6 L394.1,3426.1 L419.2,3403.9 L444.3,3447.3 L469.4,3437.1 L494.5,3426.8 L519.7,3374.4 L544.8,3366.7 L569.9,3353.2 L595.0,3389.8 L620.2,3342.6 L645.3,3413.0 L670.4,3403.3 L695.5,3445.7 L720.6,3418.4 L745.8,3550.1 L770.9,3588.7 L796.0,3627.2 L821.1,3636.9 L846.3,3677.4 L871.4,3667.7 L896.5,3667.7 L921.6,3597.3 L946.8,3597.3 L971.9,3450.6 L997.0,3468.7 L1022.1,3465.8 L1047.2,3413.7 L1072.4,3430.1 L1097.5,3401.2 L1122.6,3403.1 L1147.7,3379.0 L1172.9,3247.9 L1198.0,3348.1 L1223.1,3247.7 L1248.2,3319.0 L1273.3,3313.2 L1298.5,3384.5 L1323.6,3479.2 L1348.7,3541.4 L1373.8,3578.5 L1399.0,3632.3 L1424.1,3630.2 L1449.2,3646.2 L1474.3,3658.1 L1499.4,3619.5 L1524.6,3501.8 L1549.7,3313.7 L1574.8,3169.1 L1599.9,3038.0 L1625.1,3064.0 L1650.2,3062.1 L1675.3,2981.1 L1700.4,2962.8 L1725.5,2991.7 L1750.7,2983.0 L1775.8,2943.7 L1800.9,2986.6 L1826.0,3011.4 L1851.2,3156.0 L1876.3,3207.1 L1901.4,3205.2 L1926.5,3215.8 L1951.7,3464.1 L1976.8,3540.3 L2001.9,3554.8 L2027.0,3602.0 L2052.1,3642.5 L2077.3,3619.4 L2102.4,3573.1 L2127.5,3414.0 L2152.6,3057.6 L2177.8,3007.3 L2202.9,3016.6 L2228.0,3005.5" stroke="#008000" stroke-width="3.33" stroke-linecap="square"/>
<g fill="#008000" stroke="none"><circle cx="268.4" cy="3511.9" r="7.96"/><circle cx="293.6" cy="3706.7" r="7.96"/><circle cx="318.7" cy="3668.3" r="7.96"/><circle cx="343.8" cy="3610.8" r="7.96"/><circle cx="368.9" cy="3478.6" r="7.96"/><circle cx="394.1" cy="3426.1" r="7.96"/><circle cx="419.2" cy="3403.9" r="7.96"/><circle cx="444.3" cy="3447.3" r="7.96"/><circle cx="469.4" cy="3437.1" r="7.96"/><circle cx="494.5" cy="3426.8" r="7.96"/><circle cx="519.7" cy="3374.4" r="7.96"/><circle cx="544.8" cy="3366.7" r="7.96"/><circle cx="569.9" cy="3353.2" r="7.96"/><circle cx="595.0" cy="3389.8" r="7.96"/><circle cx="620.2" cy="3342.6" r="7.96"/><circle cx="645.3" cy="3413.0" r="7.96"/><circle cx="670.4" cy="3403.3" r="7.96"/><circle cx="695.5" cy="3445.7" r="7.96"/><circle cx="720.6" cy="3418.4" r="7.96"/><circle cx="745.8" cy="3550.1" r="7.96"/><circle cx="770.9" cy="3588.7" r="7.96"/><circle cx="796.0" cy="3627.2" r="7.96"/><circle cx="821.1" cy="3636.9" r="7.96"/><circle cx="846.3" cy="3677.4" r="7.96"/><circle cx="871.4" cy="3667.7" r="7.96"/><circle cx="896.5" cy="3667.7" r="7.96"/><circle cx="921.6" cy="3597.3" r="7.96"/><circle cx="946.8" cy="3597.3" r="7.96"/><circle cx="971.9" cy="3450.6" r="7.96"/><circle cx="997.0" cy="3468.7" r="7.96"/><circle cx="1022.1" cy="3465.8" r="7.96"/><circle cx="1047.2" cy="3413.7" r="7.96"/><circle cx="1072.4" cy="3430.1" r="7.96"/><circle cx="1097.5" cy="3401.2" r="7.96"/><circle cx="1122.6" cy="3403.1" r="7.96"/><circle cx="1147.7" cy="3379.0" r="7.96"/><circle cx="1172.9" cy="3247.9" r="7.96"/><circle cx="1198.0" cy="3348.1" r="7.96"/><circle cx="1223.1" cy="3247.7" r="7.96"/><circle cx="1248.2" cy="3319.0" r="7.96"/><circle cx="1273.3" cy="3313.2" r="7.96"/><circle cx="1298.5" cy="3384.5" r="7.96"/><circle cx="1323.6" cy="3479.2" r="7.96"/><circle cx="1348.7" cy="3541.4" r="7.96"/><circle cx="1373.8" cy="3578.5" r="7.96"/><circle cx="1399.0" cy="3632.3" r="7.96"/><circle cx="1424.1" cy="3630.2" r="7.96"/><circle cx="1449.2" cy="3646.2" r="7.96"/><circle cx="1474.3" cy="3658.1" r="7.96"/><circle cx="1499.4" cy="3619.5" r="7.96"/><circle cx="1524.6" cy="3501.8" r="7.96"/><circle cx="1549.7" cy="3313.7" r="7.96"/><circle cx="1574.8" cy="3169.1" r="7.96"/><circle cx="1599.9" cy="3038.0" r="7.96"/><circle cx="1625.1" cy="3064.0" r="7.96"/><circle cx="1650.2" cy="3062.1" r="7.96"/><circle cx="1675.3" cy="2981.1" r="7.96"/><circle cx="1700.4" cy="2962.8" r="7.96"/><circle cx="1725.5" cy="2991.7" r="7.96"/><circle cx="1750.7" cy="2983.0" r="7.96"/><circle cx="1775.8" cy="2943.7" r="7.96"/><circle cx="1800.9" cy="2986.6" r="7.96"/><circle cx="1826.0" cy="3011.4" r="7.96"/><circle cx="1851.2" cy="3156.0" r="7.96"/><circle cx="1876.3" cy="3207.1" r="7.96"/><circle cx="1901.4" cy="3205.2" r="7.96"/><circle cx="1926.5" cy="3215.8" r="7.96"/><circle cx="1951.7" cy="3464.1" r="7.96"/><circle cx="1976.8" cy="3540.3" r="7.96"/><circle cx="2001.9" cy="3554.8" r="7.96"/><circle cx="2027.0" cy="3602.0" r="7.96"/><circle cx="2052.1" cy="3642.5" r="7.96"/><circle cx="2077.3" cy="3619.4" r="7.96"/><circle cx="2102.4" cy="3573.1" r="7.96"/><circle cx="2127.5" cy="3414.0" r="7.96"/><circle cx="2152.6" cy="3057.6" r="7.96"/><circle cx="2177.8" cy="3007.3" r="7.96"/><circle cx="2202.9" cy="3016.6" r="7.96"/><circle cx="2228.0" cy="3005.5" r="7.96"/></g>
<path d="M268.4,3497.7 L293.6,3694.5 L318.7,3678.4 L343.8,3579.5 L368.9,3506.8 L394.1,3332.2 L419.2,3369.6 L444.3,3371.6 L469.4,3489.4 L494.5,3442.1 L519.7,3432.2 L544.8,3351.3 L569.9,3359.0 L595.0,3351.3 L620.2,3431.3 L645.3,3332.0 L670.4,3454.4 L695.5,3426.5 L720.6,3474.8 L745.8,3423.8 L770.9,3587.7 L796.0,3634.9 L821.1,3677.4 L846.3,3654.2 L871.4,3685.1 L896.5,3644.6 L921.6,3649.4 L946.8,3482.6 L971.9,3568.4 L997.0,3281.6 L1022.1,3445.5 L1047.2,3459.0 L1072.4,3395.4 L1097.5,3437.8 L1122.6,3392.5 L1147.7,3412.7 L1172.9,3380.0 L1198.0,3210.3 L1223.1,3371.2 L1248.2,3222.6 L1273.3,3347.9 L1298.5,3322.8 L1323.6,3435.9 L1348.7,3537.2 L1373.8,3587.5 L1399.0,3621.1 L1424.1,3665.1 L1449.2,3628.8 L1474.3,3648.7 L1499.4,3648.7 L1524.6,3550.3 L1549.7,3351.6 L1574.8,3172.0 L1599.9,3128.6 L1625.1,3024.5 L1650.2,3039.9 L1675.3,3071.7 L1700.4,3005.2 L1725.5,2988.8 L1750.7,3010.0 L1775.8,3009.7 L1800.9,2992.4 L1826.0,2982.4 L1851.2,3034.5 L1876.3,3268.8 L1901.4,3265.9 L1926.5,3237.9 L1951.7,3232.6 L1976.8,3508.5 L2001.9,3596.2 L2027.0,3610.7 L2052.1,3630.0 L2077.3,3672.4 L2102.4,3560.5 L2127.5,3506.5 L2152.6,3237.9 L2177.8,2816.0 L2202.9,2952.7 L2228.0,2977.5" stroke="#ff0000" stroke-width="3.33" stroke-linecap="square"/>
<g fill="#ff0000" stroke="none"><circle cx="268.4" cy="3497.7" r="7.96"/><circle cx="293.6" cy="3694.5" r="7.96"/><circle cx="318.7" cy="3678.4" r="7.96"/><circle cx="343.8" cy="3579.5" r="7.96"/><circle cx="368.9" cy="3506.8" r="7.96"/><circle cx="394.1" cy="3332.2" r="7.96"/><circle cx="419.2" cy="3369.6" r="7.96"/><circle cx="444.3" cy="3371.6" r="7.96"/><circle cx="469.4" cy="3489.4" r="7.96"/><circle cx="494.5" cy="3442.1" r="7.96"/><circle cx="519.7" cy="3432.2" r="7.96"/><circle cx="544.8" cy="3351.3" r="7.96"/><circle cx="569.9" cy="3359.0" r="7.96"/><circle cx="595.0" cy="3351.3" r="7.96"/><circle cx="620.2" cy="3431.3" r="7.96"/><circle cx="645.3" cy="3332.0" r="7.96"/><circle cx="670.4" cy="3454.4" r="7.96"/><circle cx="695.5" cy="3426.5" r="7.96"/><circle cx="720.6" cy="3474.8" r="7.96"/><circle cx="745.8" cy="3423.8" r="7.96"/><circle cx="770.9" cy="3587.7" r="7.96"/><circle cx="796.0" cy="3634.9" r="7.96"/><circle cx="821.1" cy="3677.4" r="7.96"/><circle cx="846.3" cy="3654.2" r="7.96"/><circle cx="871.4" cy="3685.1" r="7.96"/><circle cx="896.5" cy="3644.6" r="7.96"/><circle cx="921.6" cy="3649.4" r="7.96"/><circle cx="946.8" cy="3482.6" r="7.96"/><circle cx="971.9" cy="3568.4" r="7.96"/><circle cx="997.0" cy="3281.6" r="7.96"/><circle cx="1022.1" cy="3445.5" r="7.96"/><circle cx="1047.2" cy="3459.0" r="7.96"/><circle cx="1072.4" cy="3395.4" r="7.96"/><circle cx="1097.5" cy="3437.8" r="7.96"/><circle cx="1122.6" cy="3392.5" r="7.96"/><circle cx="1147.7" cy="3412.7" r="7.96"/><circle cx="1172.9" cy="3380.0" r="7.96"/><circle cx="1198.0" cy="3210.3" r="7.96"/><circle cx="1223.1" cy="3371.2" r="7.96"/><circle cx="1248.2" cy="3222.6" r="7.96"/><circle cx="1273.3" cy="3347.9" r="7.96"/><circle cx="1298.5" cy="3322.8" r="7.96"/><circle cx="1323.6" cy="3435.9" r="7.96"/><circle cx="1348.7" cy="3537.2" r="7.96"/><circle cx="1373.8" cy="3587.5" r="7.96"/><circle cx="1399.0" cy="3621.1" r="7.96"/><circle cx="1424.1" cy="3665.1" r="7.96"/><circle cx="1449.2" cy="3628.8" r="7.96"/><circle cx="1474.3" cy="3648.7" r="7.96"/><circle cx="1499.4" cy="3648.7" r="7.96"/><circle cx="1524.6" cy="3550.3" r="7.96"/><circle cx="1549.7" cy="3351.6" r="7.96"/><circle cx="1574.8" cy="3172.0" r="7.96"/><circle cx="1599.9" cy="3128.6" r="7.96"/><circle cx="1625.1" cy="3024.5" r="7.96"/><circle cx="1650.2" cy="3039.9" r="7.96"/><circle cx="1675.3" cy="3071.7" r="7.96"/><circle cx="1700.4" cy="3005.2" r="7.96"/><circle cx="1725.5" cy="2988.8" r="7.96"/><circle cx="1750.7" cy="3010.0" r="7.96"/><circle cx="1775.8" cy="3009.7" r="7.96"/><circle cx="1800.9" cy="2992.4" r="7.96"/><circle cx="1826.0" cy="2982.4" r="7.96"/><circle cx="1851.2" cy="3034.5" r="7.96"/><circle cx="1876.3" cy="3268.8" r="7.96"/><circle cx="1901.4" cy="3265.9" r="7.96"/><circle cx="1926.5" cy="3237.9" r="7.96"/><circle cx="1951.7" cy="3232.6" r="7.96"/><circle cx="1976.8" cy="3508.5" r="7.96"/><circle cx="2001.9" cy="3596.2" r="7.96"/><circle cx="2027.0" cy="3610.7" r="7.96"/><circle cx="2052.1" cy="3630.0" r="7.96"/><circle cx="2077.3" cy="3672.4" r="7.96"/><circle cx="2102.4" cy="3560.5" r="7.96"/><circle cx="2127.5" cy="3506.5" r="7.96"/><circle cx="2152.6" cy="3237.9" r="7.96"/><circle cx="2177.8" cy="2816.0" r="7.96"/><circle cx="2202.9" cy="2952.7" r="7.96"/><circle cx="2228.0" cy="2977.5" r="7.96"/></g>
<path d="M268.4,3287.8 L293.6,3374.0 L318.7,3353.4 L343.8,3323.1 L368.9,3260.6 L394.1,3237.3 L419.2,3219.2 L444.3,3247.4 L469.4,3236.9 L494.5,3231.5 L519.7,3205.7 L544.8,3205.7 L569.9,3196.0 L595.0,3215.3 L620.2,3187.4 L645.3,3224.0 L670.4,3224.0 L695.5,3238.5 L720.6,3226.9 L745.8,3289.8 L770.9,3317.7 L796.0,3332.2 L821.1,3337.0 L846.3,3358.2 L871.4,3350.5 L896.5,3352.4 L921.6,3318.7 L946.8,3315.8 L971.9,3251.5 L997.0,3255.6 L1022.1,3246.9 L1047.2,3223.8 L1072.4,3230.5 L1097.5,3218.9 L1122.6,3221.5 L1147.7,3208.3 L1172.9,3138.9 L1198.0,3184.2 L1223.1,3141.7 L1248.2,3176.3 L1273.3,3174.4 L1298.5,3211.0 L1323.6,3253.4 L1348.7,3288.1 L1373.8,3307.4 L1399.0,3333.4 L1424.1,3331.5 L1449.2,3342.1 L1474.3,3347.0 L1499.4,3323.9 L1524.6,3264.2 L1549.7,3200.0 L1574.8,3109.3 L1599.9,3045.7 L1625.1,3050.5 L1650.2,3044.7 L1675.3,3038.0 L1700.4,3038.0 L1725.5,3038.0 L1750.7,3038.0 L1775.8,3038.0 L1800.9,3038.0 L1826.0,3038.3 L1851.2,3038.3 L1876.3,3038.4 L1901.4,3076.0 L1926.5,3130.0 L1951.7,3241.8 L1976.8,3289.5 L2001.9,3297.7 L2027.0,3318.9 L2052.1,3341.1 L2077.3,3323.7 L2102.4,3303.5 L2127.5,3214.8 L2152.6,3044.8 L2177.8,3038.4 L2202.9,3038.4 L2228.0,3038.4" stroke="#0000ff" stroke-width="3.33" stroke-dasharray="13.00 5.64"/>
<path d="M268.4,3488.7 L293.6,3573.4 L318.7,3547.2 L343.8,3512.9 L368.9,3460.4 L394.1,3434.7 L419.2,3434.7 L444.3,3434.7 L469.4,3434.7 L494.5,3434.7 L519.7,3434.7 L544.8,3434.7 L569.9,3434.7 L595.0,3434.7 L620.2,3434.7 L645.3,3434.7 L670.4,3434.7 L695.5,3434.7 L720.6,3434.4 L745.8,3434.4 L770.9,3434.4 L796.0,3465.2 L821.1,3538.5 L846.3,3555.9 L871.4,3550.1 L896.5,3552.0 L921.6,3517.3 L946.8,3514.4 L971.9,3451.0 L997.0,3454.2 L1022.1,3446.5 L1047.2,3435.9 L1072.4,3434.7 L1097.5,3434.7 L1122.6,3434.7 L1147.7,3434.7 L1172.9,3434.7 L1198.0,3434.7 L1223.1,3434.7 L1248.2,3434.7 L1273.3,3434.7 L1298.5,3434.7 L1323.6,3434.7 L1348.7,3434.7 L1373.8,3434.7 L1399.0,3434.7 L1424.1,3434.7 L1449.2,3434.7 L1474.3,3536.5 L1499.4,3524.0 L1524.6,3465.5 L1549.7,3434.7 L1574.8,3434.7 L1599.9,3434.7 L1625.1,3434.7 L1650.2,3434.7 L1675.3,3434.7 L1700.4,3434.7 L1725.5,3434.7 L1750.7,3434.7 L1775.8,3434.7 L1800.9,3434.7 L1826.0,3434.7 L1851.2,3434.7 L1876.3,3434.7 L1901.4,3434.7 L1926.5,3434.7 L1951.7,3434.7 L1976.8,3434.7 L2001.9,3434.7 L2027.0,3434.7 L2052.1,3434.7 L2077.3,3434.7 L2102.4,3434.7 L2127.5,3434.7 L2152.6,3434.7 L2177.8,3434.7 L2202.9,3434.7 L2228.0,3434.7" stroke="#000000" stroke-width="3.33" stroke-dasharray="22.47 5.64 3.53 5.64"/>
<path d="M268.4,3669.3 L293.6,3700.6 L318.7,3697.6 L343.8,3640.0 L368.9,3561.3 L394.1,3398.8 L419.2,3366.5 L444.3,3353.4 L469.4,3466.2 L494.5,3422.3 L519.7,3418.7 L544.8,3342.6 L569.9,3364.8 L595.0,3335.8 L620.2,3412.0 L645.3,3317.5 L670.4,3440.9 L695.5,3421.6 L720.6,3464.2 L745.8,3440.2 L770.9,3565.5 L796.0,3602.2 L821.1,3630.1 L846.3,3668.7 L871.4,3696.6 L896.5,3689.9 L921.6,3683.1 L946.8,3574.2 L971.9,3582.9 L997.0,3389.6 L1022.1,3445.5 L1047.2,3439.7 L1072.4,3374.2 L1097.5,3416.6 L1122.6,3384.8 L1147.7,3398.3 L1172.9,3360.7 L1198.0,3171.7 L1223.1,3369.7 L1248.2,3201.3 L1273.3,3328.6 L1298.5,3318.0 L1323.6,3447.1 L1348.7,3503.0 L1373.8,3542.1 L1399.0,3587.5 L1424.1,3606.4 L1449.2,3634.4 L1474.3,3663.5 L1499.4,3696.9 L1524.6,3611.8 L1549.7,3451.5 L1574.8,3194.2 L1599.9,3043.8 L1625.1,3012.0 L1650.2,2981.1 L1675.3,2967.6 L1700.4,2983.0 L1725.5,2920.3 L1750.7,2934.1 L1775.8,2905.3 L1800.9,2943.8 L1826.0,2995.9 L1851.2,3087.5 L1876.3,3134.8 L1901.4,3153.1 L1926.5,3180.1 L1951.7,3322.7 L1976.8,3383.1 L2001.9,3408.2 L2027.0,3450.6 L2052.1,3493.1 L2077.3,3497.9 L2102.4,3494.0 L2127.5,3459.3 L2152.6,3431.3 L2177.8,2878.1 L2202.9,2891.8 L2228.0,2977.5" stroke="#000000" stroke-width="3.33" stroke-linecap="square"/>
<g fill="#000000" stroke="none"><circle cx="268.4" cy="3669.3" r="7.96"/><circle cx="293.6" cy="3700.6" r="7.96"/><circle cx="318.7" cy="3697.6" r="7.96"/><circle cx="343.8" cy="3640.0" r="7.96"/><circle cx="368.9" cy="3561.3" r="7.96"/><circle cx="394.1" cy="3398.8" r="7.96"/><circle cx="419.2" cy="3366.5" r="7.96"/><circle cx="444.3" cy="3353.4" r="7.96"/><circle cx="469.4" cy="3466.2" r="7.96"/><circle cx="494.5" cy="3422.3" r="7.96"/><circle cx="519.7" cy="3418.7" r="7.96"/><circle cx="544.8" cy="3342.6" r="7.96"/><circle cx="569.9" cy="3364.8" r="7.96"/><circle cx="595.0" cy="3335.8" r="7.96"/><circle cx="620.2" cy="3412.0" r="7.96"/><circle cx="645.3" cy="3317.5" r="7.96"/><circle cx="670.4" cy="3440.9" r="7.96"/><circle cx="695.5" cy="3421.6" r="7.96"/><circle cx="720.6" cy="3464.2" r="7.96"/><circle cx="745.8" cy="3440.2" r="7.96"/><circle cx="770.9" cy="3565.5" r="7.96"/><circle cx="796.0" cy="3602.2" r="7.96"/><circle cx="821.1" cy="3630.1" r="7.96"/><circle cx="846.3" cy="3668.7" r="7.96"/><circle cx="871.4" cy="3696.6" r="7.96"/><circle cx="896.5" cy="3689.9" r="7.96"/><circle cx="921.6" cy="3683.1" r="7.96"/><circle cx="946.8" cy="3574.2" r="7.96"/><circle cx="971.9" cy="3582.9" r="7.96"/><circle cx="997.0" cy="3389.6" r="7.96"/><circle cx="1022.1" cy="3445.5" r="7.96"/><circle cx="1047.2" cy="3439.7" r="7.96"/><circle cx="1072.4" cy="3374.2" r="7.96"/><circle cx="1097.5" cy="3416.6" r="7.96"/><circle cx="1122.6" cy="3384.8" r="7.96"/><circle cx="1147.7" cy="3398.3" r="7.96"/><circle cx="1172.9" cy="3360.7" r="7.96"/><circle cx="1198.0" cy="3171.7" r="7.96"/><circle cx="1223.1" cy="3369.7" r="7.96"/><circle cx="1248.2" cy="3201.3" r="7.96"/><circle cx="1273.3" cy="3328.6" r="7.96"/><circle cx="1298.5" cy="3318.0" r="7.96"/><circle cx="1323.6" cy="3447.1" r="7.96"/><circle cx="1348.7" cy="3503.0" r="7.96"/><circle cx="1373.8" cy="3542.1" r="7.96"/><circle cx="1399.0" cy="3587.5" r="7.96"/><circle cx="1424.1" cy="3606.4" r="7.96"/><circle cx="1449.2" cy="3634.4" r="7.96"/><circle cx="1474.3" cy="3663.5" r="7.96"/><circle cx="1499.4" cy="3696.9" r="7.96"/><circle cx="1524.6" cy="3611.8" r="7.96"/><circle cx="1549.7" cy="3451.5" r="7.96"/><circle cx="1574.8" cy="3194.2" r="7.96"/><circle cx="1599.9" cy="3043.8" r="7.96"/><circle cx="1625.1" cy="3012.0" r="7.96"/><circle cx="1650.2" cy="2981.1" r="7.96"/><circle cx="1675.3" cy="2967.6" r="7.96"/><circle cx="1700.4" cy="2983.0" r="7.96"/><circle cx="1725.5" cy="2920.3" r="7.96"/><circle cx="1750.7" cy="2934.1" r="7.96"/><circle cx="1775.8" cy="2905.3" r="7.96"/><circle cx="1800.9" cy="2943.8" r="7.96"/><circle cx="1826.0" cy="2995.9" r="7.96"/><circle cx="1851.2" cy="3087.5" r="7.96"/><circle cx="1876.3" cy="3134.8" r="7.96"/><circle cx="1901.4" cy="3153.1" r="7.96"/><circle cx="1926.5" cy="3180.1" r="7.96"/><circle cx="1951.7" cy="3322.7" r="7.96"/><circle cx="1976.8" cy="3383.1" r="7.96"/><circle cx="2001.9" cy="3408.2" r="7.96"/><circle cx="2027.0" cy="3450.6" r="7.96"/><circle cx="2052.1" cy="3493.1" r="7.96"/><circle cx="2077.3" cy="3497.9" r="7.96"/><circle cx="2102.4" cy="3494.0" r="7.96"/><circle cx="2127.5" cy="3459.3" r="7.96"/><circle cx="2152.6" cy="3431.3" r="7.96"/><circle cx="2177.8" cy="2878.1" r="7.96"/><circle cx="2202.9" cy="2891.8" r="7.96"/><circle cx="2228.0" cy="2977.5" r="7.96"/></g>
</g>
<rect x="218.2" y="2770.5" width="2009.8" height="980.5" fill="none" stroke="#000" stroke-width="1.91"/>
<g stroke="#000" stroke-width="1.91"><line x1="218.2" y1="3751.0" x2="218.2" y2="3759.7"/><line x1="469.4" y1="3751.0" x2="469.4" y2="3759.7"/><line x1="720.6" y1="3751.0" x2="720.6" y2="3759.7"/><line x1="971.9" y1="3751.0" x2="971.9" y2="3759.7"/><line x1="1223.1" y1="3751.0" x2="1223.1" y2="3759.7"/><line x1="1474.3" y1="3751.0" x2="1474.3" y2="3759.7"/><line x1="1725.5" y1="3751.0" x2="1725.5" y2="3759.7"/><line x1="1976.8" y1="3751.0" x2="1976.8" y2="3759.7"/><line x1="2228.0" y1="3751.0" x2="2228.0" y2="3759.7"/><line x1="218.2" y1="3650.1" x2="209.5" y2="3650.1"/><line x1="218.2" y1="3518.9" x2="209.5" y2="3518.9"/><line x1="218.2" y1="3387.7" x2="209.5" y2="3387.7"/><line x1="218.2" y1="3256.5" x2="209.5" y2="3256.5"/><line x1="218.2" y1="3125.3" x2="209.5" y2="3125.3"/><line x1="218.2" y1="2994.1" x2="209.5" y2="2994.1"/><line x1="218.2" y1="2862.9" x2="209.5" y2="2862.9"/></g>
<g font-family='"DejaVu Sans", "Liberation Sans", sans-serif' font-size="46.76" fill="#000">
<text x="218.2" y="3803.9" text-anchor="middle">0</text>
<text x="469.4" y="3803.9" text-anchor="middle">10</text>
<text x="720.6" y="3803.9" text-anchor="middle">20</text>
<text x="971.9" y="3803.9" text-anchor="middle">30</text>
<text x="1223.1" y="3803.9" text-anchor="middle">40</text>
<text x="1474.3" y="3803.9" text-anchor="middle">50</text>
<text x="1725.5" y="3803.9" text-anchor="middle">60</text>
<text x="1976.8" y="3803.9" text-anchor="middle">70</text>
<text x="2228.0" y="3803.9" text-anchor="middle">80</text>
<text x="201.3" y="3667.5" text-anchor="end">0.10</text>
<text x="201.3" y="3536.3" text-anchor="end">0.15</text>
<text x="201.3" y="3405.1" text-anchor="end">0.20</text>
<text x="201.3" y="3273.9" text-anchor="end">0.25</text>
<text x="201.3" y="3142.7" text-anchor="end">0.30</text>
<text x="201.3" y="3011.5" text-anchor="end">0.35</text>
<text x="201.3" y="2880.3" text-anchor="end">0.40</text>
<text x="1223.1" y="3859.8" text-anchor="middle">time slot</text>
<text transform="translate(73.8,3260.8) rotate(-90)" text-anchor="middle">e<tspan font-style="italic" font-size="32.7" dy="7.1">i</tspan><tspan dy="-7.1">(t)</tspan></text>
</g>
<rect x="241.8" y="2794.2" width="945.1" height="404.8" rx="7.1" ry="7.1" fill="#fff" fill-opacity="0.8" stroke="#ccc" stroke-opacity="0.8" stroke-width="1.91"/>
<line x1="258.1" y1="2843.9" x2="355.9" y2="2843.9" stroke="#008000" stroke-width="3.33"/>
<circle cx="307.0" cy="2843.9" r="7.96" fill="#008000"/>
<text x="393.7" y="2857.1" font-family='"DejaVu Sans", "Liberation Sans", sans-serif' font-size="46.76">class 3, V=10<tspan font-size="32.7" dy="-18.1">15</tspan><tspan dy="18.1">, </tspan><tspan letter-spacing="0.55">proposed</tspan><tspan dx="-2.0"> w</tspan><tspan dx="0.0"> </tspan>w<tspan font-style="italic" font-size="32.7" dy="7.1">i</tspan><tspan dy="-7.1">(t)</tspan></text>
<line x1="258.1" y1="2928.2" x2="355.9" y2="2928.2" stroke="#ff0000" stroke-width="3.33"/>
<circle cx="307.0" cy="2928.2" r="7.96" fill="#ff0000"/>
<text x="393.7" y="2943.4" font-family='"DejaVu Sans", "Liberation Sans", sans-serif' font-size="46.76">class 3, V=10<tspan font-size="32.7" dy="-18.1">15</tspan><tspan dy="18.1">, </tspan><tspan letter-spacing="0.55">proposed</tspan><tspan dx="-2.0"> w</tspan><tspan dx="0.0"> </tspan><tspan font-style="italic">ŵ</tspan><tspan font-style="italic" font-size="32.7" dy="7.1">i</tspan><tspan dy="-7.1">(t)</tspan></text>
<line x1="258.1" y1="3002.8" x2="355.9" y2="3002.8" stroke="#0000ff" stroke-width="3.33" stroke-dasharray="13.00 5.64"/>
<text x="393.7" y="3018.9" font-family='"DejaVu Sans", "Liberation Sans", sans-serif' font-size="46.76">class 3, EVEN</text>
<line x1="258.1" y1="3073.1" x2="355.9" y2="3073.1" stroke="#000000" stroke-width="3.33" stroke-dasharray="22.47 5.64 3.53 5.64"/>
<text x="393.7" y="3089.5" font-family='"DejaVu Sans", "Liberation Sans", sans-serif' font-size="46.76">class 3, TPRA</text>
<line x1="258.1" y1="3153.1" x2="355.9" y2="3153.1" stroke="#000000" stroke-width="3.33"/>
<circle cx="307.0" cy="3153.1" r="7.96" fill="#000000"/>
<text x="393.7" y="3167.8" font-family='"DejaVu Sans", "Liberation Sans", sans-serif' font-size="46.76">class 3, V=10<tspan font-size="32.7" dy="-18.1">15</tspan><tspan dy="18.1">, </tspan>WoPred</text>
<g font-family='"Liberation Serif", serif' fill="#000"><text x="1083.9" y="3997.5" font-size="76.7" stroke="#fff" stroke-width="1.8">(</text><text x="1107.9" y="3997.5" font-size="74" font-weight="bold">c</text><text x="1139.2" y="3997.5" font-size="76.7" stroke="#fff" stroke-width="1.8">)</text></g>
</svg></body></html>
